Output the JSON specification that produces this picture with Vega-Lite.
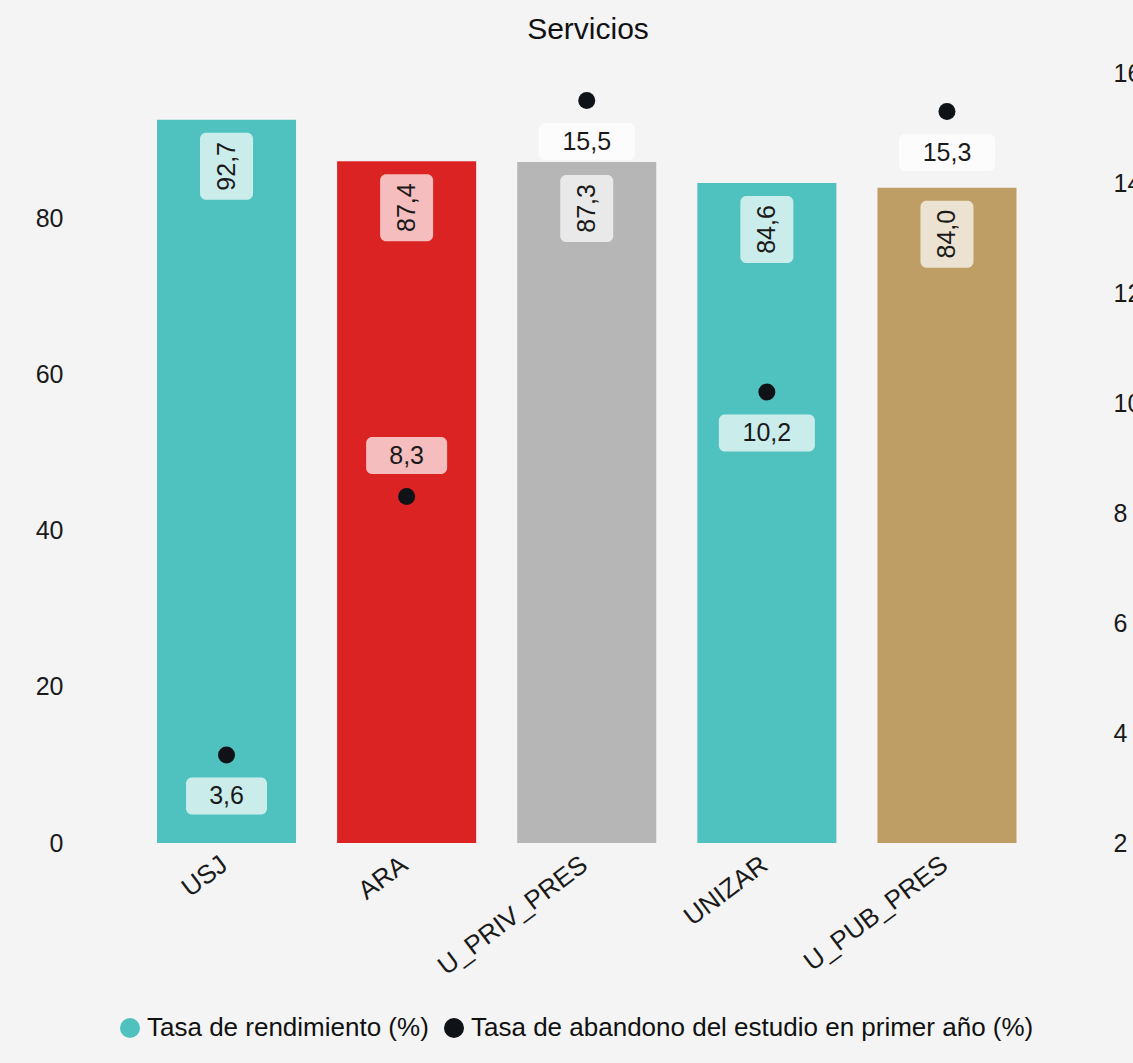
{
  "$schema": "https://vega.github.io/schema/vega-lite/v6.json",
  "autosize": {"type": "none"},
  "padding": {"left": 80, "top": 73, "right": 53, "bottom": 220},
  "width": 1000,
  "height": 770,
  "background": "#f4f4f4",
  "config": {
    "view": {"stroke": null},
    "font": "Liberation Sans",
    "axis": {"grid": false, "ticks": false, "domain": false, "labelFontSize": 25, "labelColor": "#1a1a1a", "title": null, "labelFont": "Liberation Sans"},
    "legend": {"labelFont": "Liberation Sans"}
  },
  "title": {"text": "Servicios", "fontSize": 30, "fontWeight": "normal", "color": "#111111", "offset": 16, "dx": 8, "font": "Liberation Sans"},
  "data": {
    "values": [
      {"universidad": "USJ", "rendimiento": 92.7, "abandono": 3.6},
      {"universidad": "ARA", "rendimiento": 87.4, "abandono": 8.3},
      {"universidad": "U_PRIV_PRES", "rendimiento": 87.3, "abandono": 15.5},
      {"universidad": "UNIZAR", "rendimiento": 84.6, "abandono": 10.2},
      {"universidad": "U_PUB_PRES", "rendimiento": 84.0, "abandono": 15.3}
    ]
  },
  "transform": [
    {"calculate": "replace(format(datum.rendimiento, '.1f'), '.', ',')", "as": "rend_lab"},
    {"calculate": "replace(format(datum.abandono, '.1f'), '.', ',')", "as": "aband_lab"}
  ],
  "encoding": {
    "x": {
      "field": "universidad", "type": "nominal", "sort": null,
      "scale": {"paddingInner": 0.228, "paddingOuter": 0.39, "align": 0.548},
      "axis": {"labelAngle": -37, "labelAlign": "right", "labelBaseline": "top", "labelPadding": 8, "labelOffset": -10, "labelFontSize": 26}
    }
  },
  "layer": [
    {
      "encoding": {
        "y": {"field": "rendimiento", "type": "quantitative",
          "scale": {"domain": [0, 98.7], "nice": false, "zero": true},
          "axis": {"orient": "left", "values": [0, 20, 40, 60, 80], "labelPadding": 17}}
      },
      "layer": [
        {
          "mark": {"type": "bar"},
          "encoding": {
            "color": {
              "field": "universidad", "type": "nominal",
              "scale": {
                "domain": ["Tasa de rendimiento (%)", "Tasa de abandono del estudio en primer año (%)", "USJ", "ARA", "U_PRIV_PRES", "UNIZAR", "U_PUB_PRES"],
                "range": ["#4fc2bf", "#0f1217", "#4fc2bf", "#dc2323", "#b6b6b6", "#4fc2bf", "#bf9e66"]
              },
              "legend": {
                "values": ["Tasa de rendimiento (%)", "Tasa de abandono del estudio en primer año (%)"],
                "title": null, "orient": "none", "direction": "horizontal",
                "legendX": 37, "legendY": 942,
                "symbolType": "circle", "symbolSize": 400, "symbolStrokeWidth": 0,
                "labelFontSize": 26, "labelColor": "#111111", "labelOffset": 4, "columnPadding": 12,
                "labelLimit": 800
              }
            }
          }
        },
        {
          "mark": {"type": "bar", "fill": "white", "opacity": 0.7, "cornerRadius": 6, "yOffset": 13, "y2Offset": 80},
          "encoding": {
            "y2": {"field": "rendimiento"},
            "size": {"value": 53}
          }
        },
        {
          "mark": {"type": "text", "angle": 270, "align": "center", "baseline": "middle", "fontSize": 25, "color": "#1a1a1a", "yOffset": 46.5},
          "encoding": {"text": {"field": "rend_lab"}}
        }
      ]
    },
    {
      "encoding": {
        "y": {"field": "abandono", "type": "quantitative",
          "scale": {"domain": [2, 16], "nice": false, "zero": false},
          "axis": {"orient": "right", "values": [2, 4, 6, 8, 10, 12, 14, 16], "labelPadding": 33}}
      },
      "layer": [
        {
          "mark": {"type": "point", "filled": true, "shape": "circle", "size": 289, "opacity": 1},
          "encoding": {
            "color": {"datum": "Tasa de abandono del estudio en primer año (%)"}
          }
        },
        {
          "transform": [{"filter": "datum.universidad != 'ARA'"}],
          "mark": {"type": "bar", "fill": "white", "opacity": 0.7, "cornerRadius": 6, "yOffset": 22.5, "y2Offset": 59.5},
          "encoding": {
            "y2": {"field": "abandono"},
            "size": {"condition": {"test": "datum.abandono >= 10", "value": 96}, "value": 81}
          }
        },
        {
          "transform": [{"filter": "datum.universidad == 'ARA'"}],
          "mark": {"type": "bar", "fill": "white", "opacity": 0.7, "cornerRadius": 6, "yOffset": -59.5, "y2Offset": -22.5},
          "encoding": {
            "y2": {"field": "abandono"},
            "size": {"condition": {"test": "datum.abandono >= 10", "value": 96}, "value": 81}
          }
        },
        {
          "transform": [{"filter": "datum.universidad != 'ARA'"}],
          "mark": {"type": "text", "align": "center", "baseline": "middle", "fontSize": 25, "color": "#1a1a1a", "yOffset": 41},
          "encoding": {"text": {"field": "aband_lab"}}
        },
        {
          "transform": [{"filter": "datum.universidad == 'ARA'"}],
          "mark": {"type": "text", "align": "center", "baseline": "middle", "fontSize": 25, "color": "#1a1a1a", "yOffset": -41},
          "encoding": {"text": {"field": "aband_lab"}}
        }
      ]
    }
  ],
  "resolve": {"scale": {"y": "independent"}}
}
